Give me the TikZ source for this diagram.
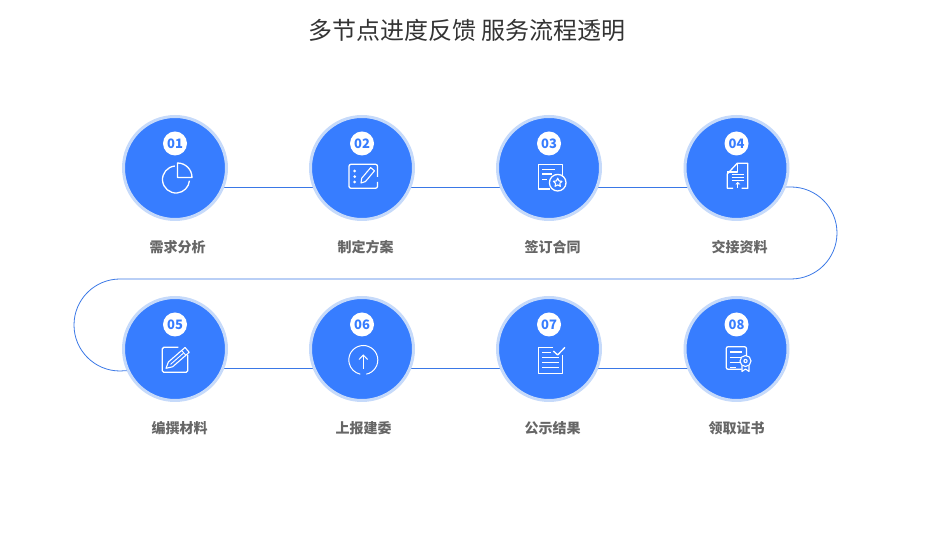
\documentclass[tikz,border=0pt]{standalone}
\usepackage{fontspec}
\setmainfont{Noto Sans CJK SC}
\usetikzlibrary{backgrounds}
\definecolor{stepblue}{HTML}{377DFF}
\definecolor{stepring}{HTML}{C6DAFA}
\definecolor{flowblue}{HTML}{3A78E6}
\tikzset{
  stepdisc/.style={circle,draw=stepring,line width=3pt,fill=stepblue,minimum size=103pt,inner sep=0pt},
  stepbadge/.style={circle,fill=white,minimum size=24pt,inner sep=0pt,text=stepblue,font=\bfseries\fontsize{13}{13}\selectfont},
  steplabel/.style={text=black!60,font=\bfseries\fontsize{14}{14}\selectfont},
  flowline/.style={draw=flowblue,line width=0.8pt},
  iconline/.style={draw=white,line width=1.3pt,line join=round}
}
\begin{document}
\begin{tikzpicture}[x=1pt,y=1pt]
\useasboundingbox (0,0) rectangle (932,546);
\node[text=black!80,font=\fontsize{24}{24}\selectfont] (title) at (467,516) {多节点进度反馈 服务流程透明};
\foreach \n/\x/\y/\lx/\lab in {1/175/378/177.5/需求分析,2/362/378/365.5/制定方案,3/549/378/552.5/签订合同,4/736.5/378/739.5/交接资料,
    5/175/197/179.5/编撰材料,6/362/197/363.5/上报建委,7/549/197/552.5/公示结果,8/736.5/197/736.5/领取证书} {
  \node[stepdisc] (s\n) at (\x,\y) {};
  \node[stepbadge] (b\n) at (\x,\y+24.5) {0\n};
  \node[steplabel] (t\n) at (\lx,\y-79) {\lab};
  \coordinate (e\n) at (\x,\y-19);
}
% connectors go behind the discs
\begin{scope}[on background layer]
\draw[flowline] (e1) -- (e2);
\draw[flowline] (e2) -- (e3);
\draw[flowline] (e3) -- (e4);
\draw[flowline] (e4) -- (791,359) arc[start angle=90,end angle=-90,radius=46] -- (120,267) arc[start angle=90,end angle=270,radius=46] -- (e5);
\draw[flowline] (e5) -- (e6);
\draw[flowline] (e6) -- (e7);
\draw[flowline] (e7) -- (e8);
\end{scope}
% icon 01
\begin{scope}[shift={(s1.center)}]
\draw[iconline] (1,-11.5) ++(95:13.5) arc[start angle=95,end angle=355,radius=13.5];
\draw[iconline] (2.5,-9.5) -- (2.5,5) arc[start angle=90,end angle=0,radius=14.5] -- cycle;
\end{scope}
% icon 02
\begin{scope}[shift={(s2.center)}]
\draw[iconline,rounded corners=2pt] (15.5,-9) -- (15.5,3.7) -- (-13,3.7) -- (-13,-20.3) -- (15.5,-20.3) -- (15.5,-14);
\foreach \dy in {-3,-8.6,-14} \fill[white] (-7.3,\dy) circle (1.5);
\begin{scope}[shift={(-1,-15)},rotate=50]
\draw[iconline,line width=1.1pt] (0,0) -- (4,-2.5) -- (18,-2.5) -- (18,2.5) -- (4,2.5) -- cycle;
\end{scope}
\end{scope}
% icon 03
\begin{scope}[shift={(s3.center)}]
\draw[iconline] (13.7,-8.6) -- (13.7,3.7) -- (-10.7,3.7) -- (-10.7,-21) -- (1,-21);
\draw[iconline] (-7,-1.3) -- (6,-1.3);
\draw[iconline] (-7,-6) -- (3,-6);
\draw[iconline] (-7,-11.7) -- (-2,-11.7);
\draw[iconline] (8.7,-14.7) circle (8.3);
\begin{scope}[shift={(8.7,-14.7)}]
\draw[iconline,line width=1.1pt] (90:4.5) -- (126:2.2) -- (162:4.5) -- (198:2.2) -- (234:4.5) -- (270:2.2) -- (306:4.5) -- (342:2.2) -- (18:4.5) -- (54:2.2) -- cycle;
\end{scope}
\end{scope}
% icon 04
\begin{scope}[shift={(s4.center)}]
\draw[iconline] (-3.5,-20.3) -- (-9.3,-20.3) -- (-9.3,-6) -- (0.7,4.7) -- (11.3,4.7) -- (11.3,-20.3) -- (5,-20.3);
\draw[iconline] (0.7,4.7) -- (0.7,-4) -- (-9.3,-4);
\foreach \dy in {-6.7,-9.7,-12.7} \draw[iconline] (-5,\dy) -- (7.5,\dy);
\draw[iconline] (1.3,-19.7) -- (1.3,-15);
\fill[white] (1.3,-13.8) -- (3.8,-16.5) -- (-1.2,-16.5) -- cycle;
\end{scope}
% icon 05
\begin{scope}[shift={(s5.center)}]
\draw[iconline,rounded corners=1.5pt] (3.3,1.7) -- (-12.7,1.7) -- (-12.7,-23.3) -- (12.7,-23.3) -- (12.7,-6);
\begin{scope}[shift={(-9,-19.3)},rotate=41]
\draw[iconline,line width=1.1pt] (0,0) -- (6,-3.2) -- (28,-3.2) -- (28,3.2) -- (6,3.2) -- cycle;
\draw[iconline,line width=0.9pt] (6,0) -- (23,0);
\draw[iconline,line width=0.9pt] (23.5,-3.2) -- (23.5,3.2);
\end{scope}
\end{scope}
% icon 06
\begin{scope}[shift={(s6.center)}]
\draw[iconline,line width=1pt] (1.3,-11) ++(-78:14.5) arc[start angle=-78,end angle=258,radius=14.5];
\draw[iconline,line width=1pt] (1.3,-20) -- (1.3,-6);
\draw[iconline,line width=1pt] (-3,-10.5) -- (1.3,-6) -- (5.6,-10.5);
\end{scope}
% icon 07
\begin{scope}[shift={(s7.center)}]
\draw[iconline] (4,1.7) -- (-10.7,1.7) -- (-10.7,-24.3) -- (13.7,-24.3) -- (13.7,-6);
\draw[iconline] (-6.7,-3.7) -- (1.7,-3.7);
\foreach \dy in {-8.7,-13.7,-18.7} \draw[iconline] (-6.7,\dy) -- (9.7,\dy);
\draw[iconline] (4.3,-2) -- (8.7,-6) -- (16,1.7);
\end{scope}
% icon 08
\begin{scope}[shift={(s8.center)}]
\draw[iconline,rounded corners=2pt] (10,-7) -- (10,2.3) -- (-10.3,2.3) -- (-10.3,-20.3) -- (5,-20.3);
\draw[iconline] (-6.7,-3) -- (5.5,-3);
\draw[iconline] (-6.7,-8.7) -- (4,-8.7);
\draw[iconline] (-6.7,-13.7) -- (3,-13.7);
\draw[iconline] (-6.7,-18.3) -- (-1,-18.3);
\draw[iconline,line width=1.1pt] (9,-12) circle (5.5);
\fill[white] (9,-12) circle (2.2);
\fill[stepblue] (9,-12) circle (1);
\draw[iconline,line width=1.1pt] (5.5,-16.5) -- (5.5,-22.5) -- (9,-20) -- (12.5,-22.5) -- (12.5,-16.5);
\end{scope}
\end{tikzpicture}
\end{document}
